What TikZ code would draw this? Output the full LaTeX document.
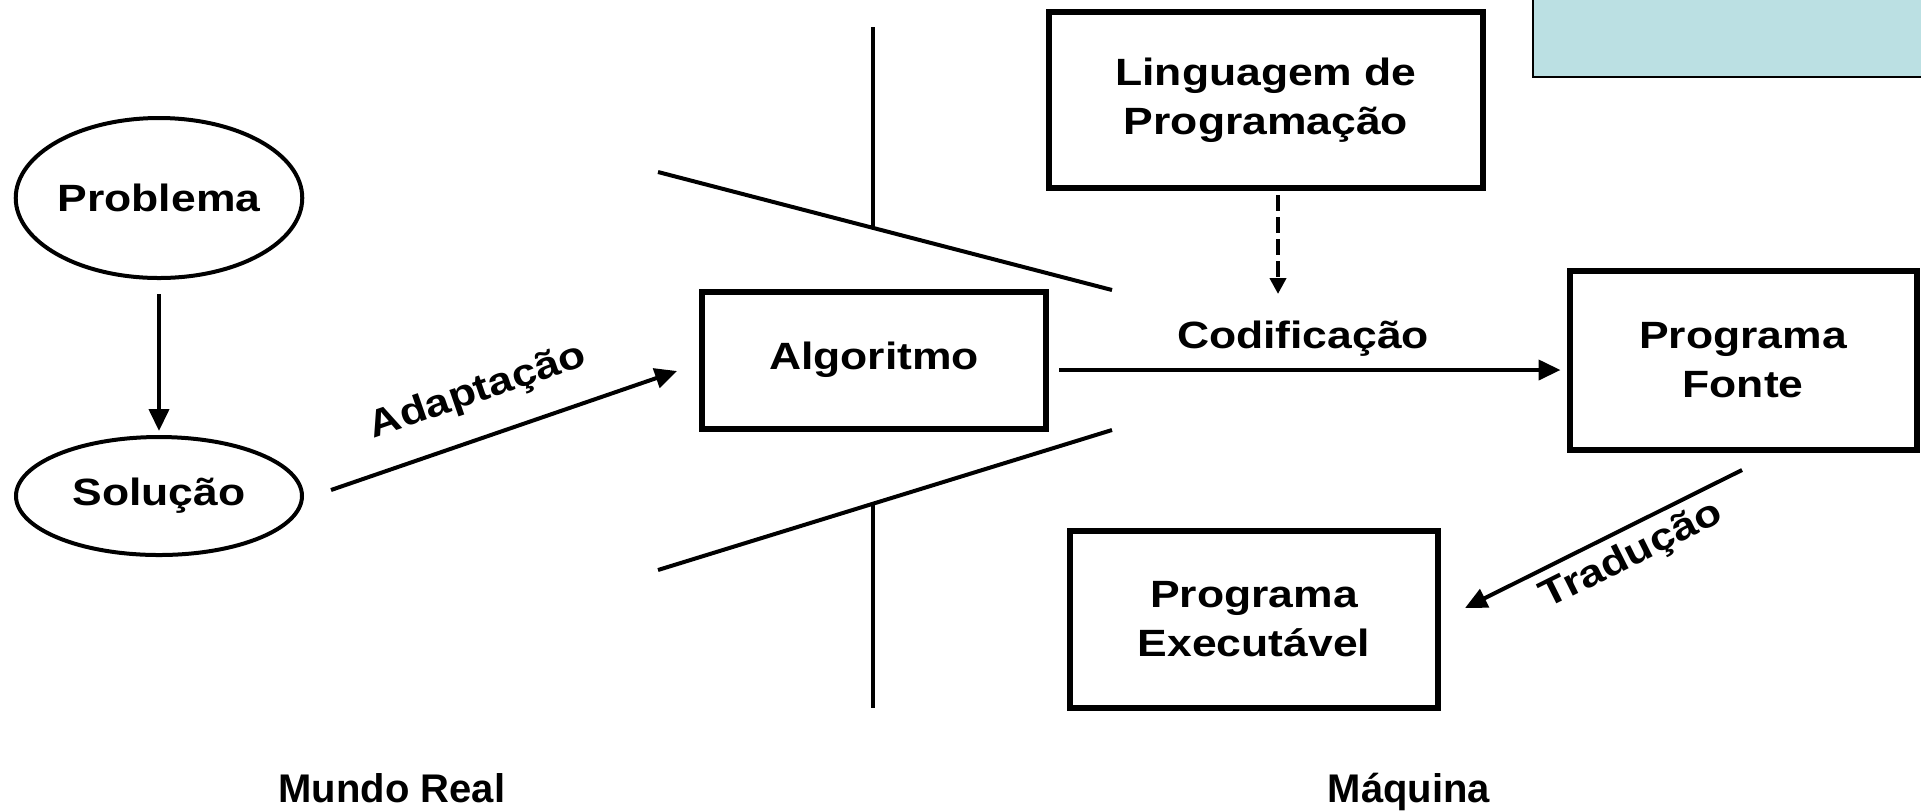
\documentclass[tikz,border=0pt]{standalone}
\usepackage{fontspec}
\setmainfont{Liberation Sans}
\newfontfamily\labfont[FakeStretch=1.17]{Liberation Sans}
\usetikzlibrary{shapes.geometric,arrows.meta,calc}
\definecolor{tealbox}{RGB}{187,224,227}
\begin{document}
\begin{tikzpicture}[x=0.5pt,y=-0.5pt,
  lab/.style={font=\labfont\bfseries\fontsize{19pt}{24.5pt}\selectfont, align=center, inner sep=0pt},
  ell/.style={draw, ellipse, line width=2pt, inner sep=0pt, lab},
  boxnode/.style={draw, rectangle, line width=3pt, inner sep=0pt, lab},
  arr/.style={line width=2pt, -{Triangle[length=11pt,width=10pt]}},
  sepline/.style={line width=2pt},
  bottomlab/.style={font=\bfseries\fontsize{20pt}{24pt}\selectfont, anchor=base, inner sep=0pt}
]
\useasboundingbox (0,0) rectangle (1921,811);

% teal box top right
\draw[fill=tealbox, line width=1.2pt] (1533,-10) rectangle (1935,77);

% ellipses
\node[ell, minimum width=143pt, minimum height=80pt] (prob) at (159,198) {Problema};
\node[ell, minimum width=143pt, minimum height=59pt] (sol) at (159,496) {Solução};

% boxes
\node[boxnode, minimum width=172pt, minimum height=68.5pt] (alg) at (874,360) {Algoritmo};
\node[boxnode, minimum width=217pt, minimum height=88pt] (ling) at (1266,100) {Linguagem de\\Programação};
\node[boxnode, minimum width=173.5pt, minimum height=89.5pt] (pf) at (1743,360) {Programa\\Fonte};
\node[boxnode, minimum width=184pt, minimum height=88.5pt] (pe) at (1254,619) {Programa\\Executável};

% separator lines
\draw[sepline] (658,172) -- (1112,290);
\draw[sepline] (658,570) -- (1112,430);
\draw[sepline] (873,27) -- (873,228);
\draw[sepline] (873,504) -- (873,708);

% connectors
\draw[arr, shorten <=7pt, shorten >=2pt] (prob) -- (sol);

\coordinate (adS) at (331,490);
\coordinate (adE) at (677,371);
\draw[arr] (adS) -- (adE);
\node[lab, rotate=19] (adlab) at (478,392) {Adaptação};

\draw[arr, shorten <=5pt, shorten >=3pt] ([yshift=-5pt]alg.east) -- ([yshift=-5pt]pf.west);
\node[lab, anchor=base] (codlab) at (1303,348) {Codificação};

\coordinate (dashEnd) at (1278,294);
\draw[line width=2pt, dash pattern=on 8pt off 3pt, -{Triangle[length=8pt,width=8pt]}, shorten <=2pt] (ling.south -| dashEnd) -- (dashEnd);

\coordinate (trS) at (1742,470);
\coordinate (trE) at (1465,608);
\draw[arr] (trS) -- (trE);
\node[lab, rotate=26.5] (trlab) at (1632,556) {Tradução};

% bottom labels
\node[bottomlab] (mundo) at (392,802) {Mundo Real};
\node[bottomlab] (maq) at (1409,802) {Máquina};
\end{tikzpicture}
\end{document}
